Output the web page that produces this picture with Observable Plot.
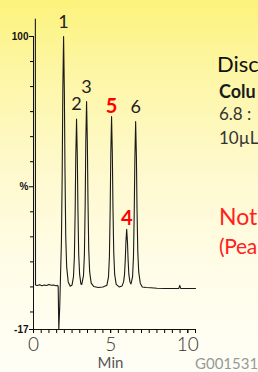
<!DOCTYPE html>
<html><head><meta charset="utf-8">
<script src="https://cdn.jsdelivr.net/npm/d3@7"></script>
<script src="https://cdn.jsdelivr.net/npm/@observablehq/plot@0.6"></script>
<style>
html,body{margin:0;padding:0;}
body{width:258px;height:372px;overflow:hidden;position:relative;font-family:Lato,"Open Sans",sans-serif;
background:linear-gradient(to bottom,#fcf37c 0%,#fdf6a6 20%,#fef9cc 45%,#fffce6 70%,#fffef6 100%);}
#chart{position:absolute;left:0;top:0;}
.t{position:absolute;white-space:nowrap;line-height:1;}
</style></head><body>
<div id="chart"></div>
<div class="t" style="left:217px;top:53px;font-size:22px;color:#111">Disc</div>
<div class="t" style="left:219px;top:82px;font-size:18px;font-weight:bold;color:#1a1a1a">Colu</div>
<div class="t" style="left:219px;top:105px;font-size:17px;color:#333">6.8 :</div>
<div class="t" style="left:219px;top:129px;font-size:17px;color:#333">10µL</div>
<div class="t" style="left:219px;top:205px;font-size:23px;color:#ff2020">Not</div>
<div class="t" style="left:219px;top:235px;font-size:21px;letter-spacing:-0.3px;color:#ff2020">(Pea</div>
<div class="t" style="left:195px;top:356px;font-size:15px;color:#999">G001531</div>
<script>
// chromatogram trace (minutes, % response)
const time = [0.12,0.13,0.25,0.40,0.55,0.70,0.85,1.00,1.15,1.30,1.45,1.55,1.60,1.64,1.70,1.75,1.81,1.86,1.90,1.95,2.00,2.04,2.09,2.15,2.25,2.38,2.50,2.59,2.65,2.70,2.74,2.79,2.84,2.88,2.93,2.99,3.07,3.13,3.24,3.30,3.35,3.39,3.44,3.49,3.53,3.58,3.64,3.74,3.90,4.20,4.50,4.76,4.86,4.92,4.97,5.01,5.06,5.11,5.15,5.20,5.26,5.36,5.55,5.74,5.84,5.90,5.95,5.99,6.04,6.09,6.13,6.18,6.25,6.32,6.42,6.48,6.53,6.57,6.62,6.67,6.71,6.76,6.82,6.92,7.05,7.30,7.60,8.00,8.50,9.00,9.42,9.48,9.54,10.0,10.5];
const signal = [107,0.8,0.6,0.9,0.5,0.8,0.6,1.0,0.7,0.8,0.5,0.6,0.2,-17,-8,4,18,45,78,100,78,47,20,8,2,0.3,0.8,4,12,30,52,67,52,31,13,5,1.2,1.0,4.5,13,33,58,74,58,35,15,6,1.5,0.2,-0.2,0,0.7,4,12,31,53,68,53,32,14,5,1,0,0.4,2,5,11,18,23,18,11,5,2,1.2,4,12,30,51,66,52,31,14,6,1.5,0,-0.2,-0.3,-0.5,-0.6,-0.6,-0.6,0.6,-0.6,-0.6,-0.6];

// peak labels
const peakIds = ["1","2","3","5","4","6"];
const peakTimes = [1.95,2.79,3.44,5.06,6.04,6.62];
const peakHeights = [100,67,74,68,23,66];
const peakHighlight = [false,false,false,true,true,false];

// axes
const xDomain = [0, 10.5];
const yDomain = [-17, 100];
const xMinorTicks = d3.range(0, 10.51, 0.5);
const xLabelTicks = [0, 5, 10];
const yMinorTicks = [90,80,70,60,50,30,20,10,0,-10];
const yLabelTicks = [100, 40, -17];
const yLabelText = ["100", "%", "-17"];
const xTitle = "Min";

const trace = time.map((t, i) => ({t, v: signal[i]}));
const peaks = peakIds.map((id, i) => ({id, t: peakTimes[i], v: peakHeights[i], hi: peakHighlight[i]}));

const chart = Plot.plot({
  width: 258, height: 372,
  marginLeft: 33, marginRight: 63, marginTop: 36, marginBottom: 43,
  style: {background: "transparent", fontFamily: "Lato, sans-serif", overflow: "visible"},
  x: {domain: xDomain},
  y: {domain: yDomain},
  marks: [
    Plot.axisY(yMinorTicks, {tickSize: 3, tickFormat: () => "", label: null}),
    Plot.axisY(yLabelTicks, {tickSize: 4, tickPadding: 1, tickFormat: d => yLabelText[yLabelTicks.indexOf(d)],
      fontSize: 10, fontWeight: "bold", fontFamily: "Liberation Sans, Arial, sans-serif", label: null, fill: "#111"}),
    Plot.axisX(xMinorTicks, {tickSize: 4, tickFormat: () => "", label: null}),
    Plot.axisX(xLabelTicks, {tickSize: 4, tickPadding: 4, fontSize: 19, fontWeight: 300, label: null, fill: "#333"}),
    Plot.text([xTitle], {frameAnchor: "bottom", dx: -4, dy: 28, fontSize: 15, fill: "#555", lineAnchor: "top"}),
    Plot.ruleX([xDomain[0]], {y1: yDomain[0], y2: yDomain[1], stroke: "#111"}),
    Plot.ruleY([yDomain[0]], {x1: xDomain[0], x2: xDomain[1], stroke: "#111"}),
    Plot.line(trace, {x: "t", y: "v", stroke: "#1a1a1a", strokeWidth: 1.1}),
    Plot.text(peaks.filter(d => !d.hi), {x: "t", y: "v", text: "id", lineAnchor: "bottom", dy: -9, fontSize: 18, fill: "#222"}),
    Plot.text(peaks.filter(d => d.hi), {x: "t", y: "v", text: "id", lineAnchor: "bottom", dy: -4, fontSize: 20, fontWeight: "bold", fill: "#ff0000"})
  ]
});
document.getElementById("chart").append(chart);
</script>
</body></html>
